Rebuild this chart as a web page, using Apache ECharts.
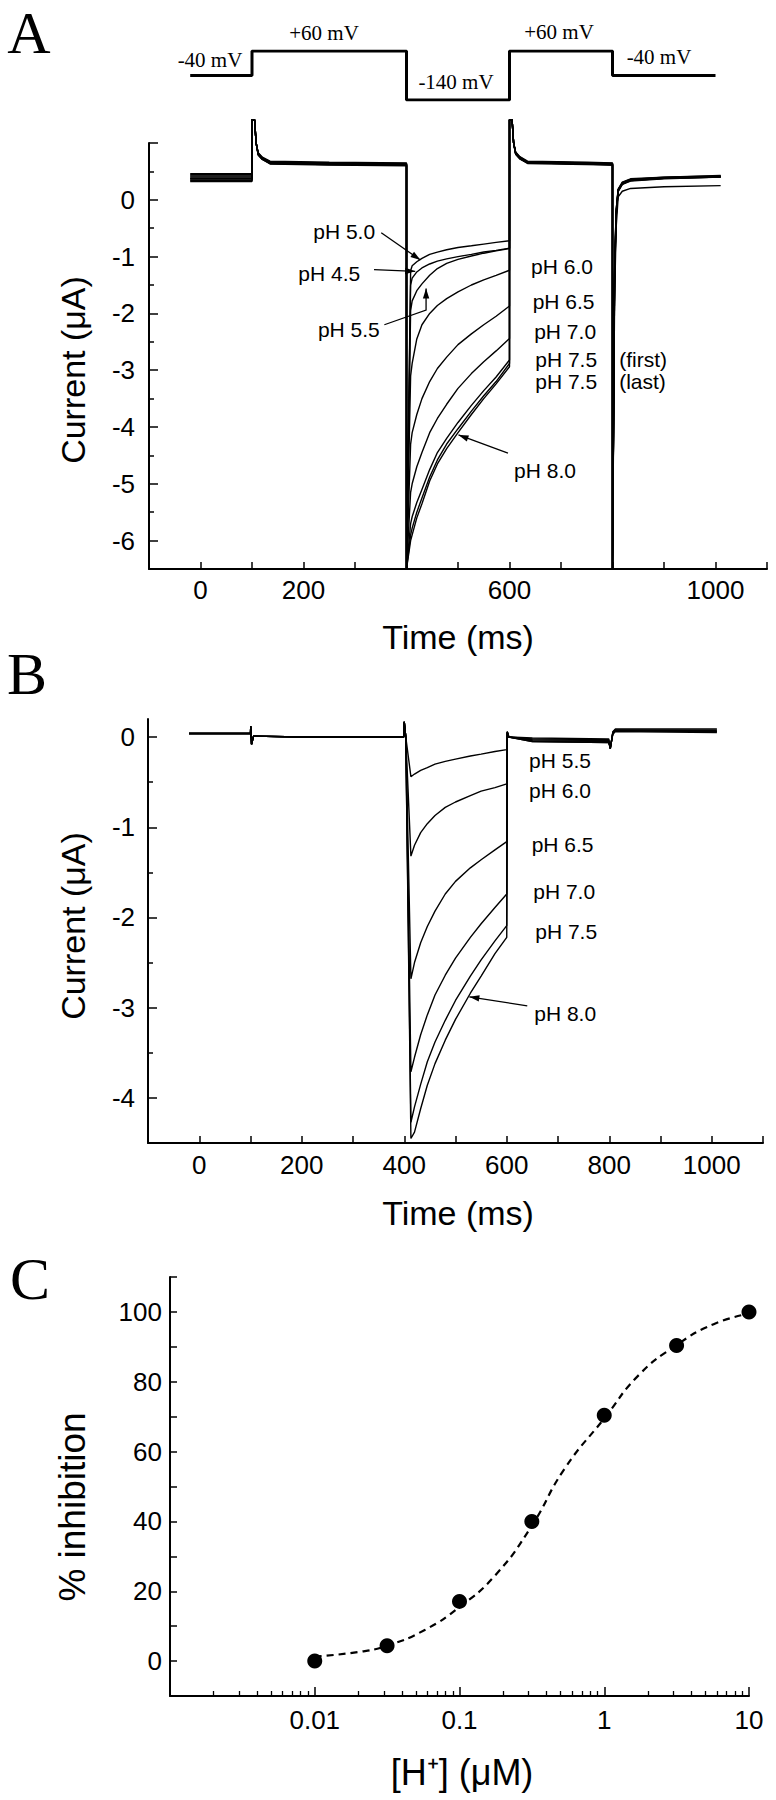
<!DOCTYPE html>
<html><head><meta charset="utf-8">
<script src="https://cdn.jsdelivr.net/npm/echarts@6.0.0/dist/echarts.min.js"></script>
<style>html,body{margin:0;padding:0;background:#fff}#c{width:776px;height:1800px}</style>
</head><body><div id="c"></div>
<script>
// ---------------- DATA ----------------
// Voltage protocol (top of panel A)
const protocolTime    = [-20, 100, 100, 400, 400, 600, 600, 800, 800, 1000];
const protocolVoltage = [-40, -40, 60, 60, -140, -140, 60, 60, -40, -40];

// Panel A: current traces (µA) sampled at timeA (ms)
const timeA = [-20,100,100,105,108,112,120,135,250,400,400,408,411,420,430,445,460,478,500,526,550,574,600,600,605,608,612,620,635,750,800,800,804,807,811,819,835,900,1010];
const aPH45  = [0.46,0.46,1.41,1.41,1.0,0.83,0.75,0.68,0.66,0.65,-6.5,-1.50,-1.38,-1.27,-1.20,-1.13,-1.08,-1.04,-1.00,-0.96,-0.92,-0.89,-0.85,1.41,1.41,1.0,0.84,0.76,0.68,0.66,0.65,-6.5,-1.8,-0.5,0.05,0.15,0.20,0.23,0.25];
const aPH50  = [0.44,0.44,1.41,1.41,1.0,0.82,0.74,0.67,0.65,0.64,-6.5,-1.25,-1.16,-1.09,-1.03,-0.96,-0.92,-0.88,-0.84,-0.81,-0.78,-0.75,-0.72,1.41,1.41,1.0,0.83,0.75,0.67,0.65,0.64,-6.5,-1.5,-0.3,0.15,0.27,0.34,0.38,0.41];
const aPH55  = [0.42,0.42,1.41,1.41,1.0,0.82,0.74,0.66,0.64,0.63,-6.5,-1.95,-1.78,-1.60,-1.48,-1.33,-1.21,-1.12,-1.05,-0.99,-0.94,-0.90,-0.86,1.41,1.41,1.0,0.83,0.75,0.67,0.65,0.64,-6.5,-1.5,-0.3,0.15,0.27,0.33,0.37,0.40];
const aPH60  = [0.40,0.40,1.41,1.41,1.0,0.81,0.73,0.66,0.64,0.63,-6.5,-3.10,-2.88,-2.45,-2.20,-2.00,-1.86,-1.74,-1.62,-1.50,-1.41,-1.33,-1.24,1.41,1.41,1.0,0.82,0.74,0.66,0.65,0.63,-6.5,-1.4,-0.3,0.16,0.28,0.34,0.38,0.40];
const aPH65  = [0.38,0.38,1.41,1.41,1.0,0.81,0.73,0.65,0.63,0.62,-6.5,-4.30,-4.10,-3.78,-3.50,-3.20,-2.97,-2.77,-2.55,-2.36,-2.20,-2.05,-1.87,1.41,1.41,1.0,0.82,0.74,0.66,0.64,0.63,-6.5,-1.4,-0.25,0.17,0.29,0.35,0.38,0.40];
const aPH70  = [0.37,0.37,1.41,1.41,1.0,0.80,0.72,0.65,0.63,0.62,-6.5,-5.15,-5.00,-4.70,-4.45,-4.10,-3.85,-3.60,-3.32,-3.06,-2.85,-2.66,-2.44,1.41,1.41,1.0,0.81,0.73,0.66,0.64,0.62,-6.5,-1.3,-0.25,0.17,0.29,0.35,0.39,0.41];
const aPH75f = [0.35,0.35,1.41,1.41,1.0,0.80,0.72,0.64,0.62,0.61,-6.5,-5.70,-5.58,-5.33,-5.10,-4.75,-4.45,-4.20,-3.92,-3.62,-3.36,-3.12,-2.82,1.41,1.41,1.0,0.81,0.73,0.65,0.63,0.62,-6.5,-1.3,-0.2,0.18,0.30,0.36,0.40,0.42];
const aPH75l = [0.34,0.34,1.41,1.41,1.0,0.79,0.71,0.64,0.62,0.61,-6.5,-5.90,-5.78,-5.50,-5.25,-4.88,-4.58,-4.30,-4.03,-3.72,-3.45,-3.20,-2.88,1.41,1.41,1.0,0.80,0.72,0.65,0.63,0.61,-6.5,-1.3,-0.2,0.18,0.30,0.36,0.39,0.41];
const aPH80  = [0.32,0.32,1.41,1.41,1.0,0.79,0.71,0.63,0.61,0.60,-6.5,-6.00,-5.90,-5.60,-5.35,-4.95,-4.65,-4.38,-4.10,-3.78,-3.50,-3.24,-2.94,1.41,1.41,1.0,0.80,0.72,0.64,0.62,0.61,-6.5,-1.2,-0.2,0.19,0.31,0.37,0.40,0.43];

// Panel B: current traces (µA) sampled at timeB (ms)
const timeB = [-20,100,100.5,102,106,200,399,400,403,413,420,432,445,460,480,500,529,550,577,600,601,604,650,799,802,807,812,1010];
const bPH55 = [0.04,0.04,0.12,-0.08,0.01,0.0,0.0,0.17,0.0,-0.44,-0.41,-0.37,-0.34,-0.30,-0.27,-0.245,-0.21,-0.19,-0.16,-0.14,0.05,0.0,-0.01,-0.02,-0.13,0.06,0.09,0.09];
const bPH60 = [0.04,0.04,0.12,-0.08,0.01,0.0,0.0,0.17,0.0,-1.32,-1.20,-1.06,-0.96,-0.87,-0.78,-0.72,-0.65,-0.60,-0.56,-0.52,0.05,0.0,-0.02,-0.03,-0.13,0.05,0.08,0.08];
const bPH65 = [0.04,0.04,0.12,-0.08,0.01,0.0,0.0,0.17,0.0,-2.68,-2.50,-2.28,-2.10,-1.93,-1.74,-1.60,-1.45,-1.36,-1.25,-1.16,0.05,0.0,-0.03,-0.04,-0.13,0.05,0.08,0.07];
const bPH70 = [0.04,0.04,0.12,-0.08,0.01,0.0,0.0,0.17,0.0,-3.71,-3.55,-3.30,-3.08,-2.86,-2.64,-2.45,-2.22,-2.07,-1.89,-1.74,0.06,0.0,-0.04,-0.05,-0.12,0.04,0.07,0.06];
const bPH75 = [0.04,0.04,0.12,-0.08,0.01,0.0,0.0,0.17,0.0,-4.27,-4.10,-3.85,-3.60,-3.38,-3.14,-2.92,-2.65,-2.47,-2.26,-2.09,0.06,0.0,-0.05,-0.06,-0.12,0.04,0.07,0.06];
const bPH80 = [0.04,0.04,0.12,-0.08,0.01,0.0,0.0,0.17,0.0,-4.45,-4.38,-4.12,-3.86,-3.62,-3.36,-3.13,-2.84,-2.65,-2.40,-2.22,0.06,0.0,-0.05,-0.06,-0.12,0.03,0.06,0.05];

// Panel C: % inhibition vs [H+]
const hConc      = [0.01, 0.0316, 0.1, 0.316, 1, 3.16, 10];
const inhibition = [0, 4.4, 17.1, 40.0, 70.4, 90.4, 100];
const fitConc    = [0.01, 0.02, 0.0316, 0.058, 0.1, 0.176, 0.313, 0.53, 1, 1.74, 3.16, 5.7, 10];
const fitInhib   = [1.3, 2.6, 4.4, 9.0, 15.5, 24.5, 38.5, 55.0, 69.5, 82.0, 90.5, 96.5, 99.5];

// Tick / label values
const tickTimes   = [0,100,200,300,400,500,600,700,800,900,1000,1100];
const labelTimesA = [0,200,600,1000];
const labelTimesB = [0,200,400,600,800,1000];
const yTicksA  = [1,0,-1,-2,-3,-4,-5,-6];
const yLabelsA = [0,-1,-2,-3,-4,-5,-6];
const yMinorA  = [0.5,-0.5,-1.5,-2.5,-3.5,-4.5,-5.5];
const yTicksB  = [0,-1,-2,-3,-4];
const yLabelsB = [0,-1,-2,-3,-4];
const yMinorB  = [-0.5,-1.5,-2.5,-3.5];
const concTicks = [0.01,0.1,1,10];
const concMinor = [0.002,0.003,0.004,0.005,0.006,0.007,0.008,0.009,
                   0.02,0.03,0.04,0.05,0.06,0.07,0.08,0.09,
                   0.2,0.3,0.4,0.5,0.6,0.7,0.8,0.9,
                   2,3,4,5,6,7,8,9];
const inhibLabels = [0,20,40,60,80,100];

// ---------------- CHART ----------------
const SANS = 'Liberation Sans, Arial, sans-serif';
const SERIF = 'Liberation Serif, Times New Roman, serif';
const K = '#000';
const chart = echarts.init(document.getElementById('c'), null, {renderer:'svg', width:776, height:1800});

const pair = (xs, ys) => xs.map((x, i) => [x, ys[i]]);
const lbl = (vals, margin) => ({customValues: vals, margin: margin, fontSize: 26, fontFamily: SANS, color: K, formatter: v => String(+(+v).toPrecision(6))});
const line = {show:true, onZero:false, lineStyle:{color:K, width:2}};
const hiddenLine = {show:false, onZero:false};
const noSplit = {show:false};

const aTraces = [aPH45, aPH50, aPH55, aPH60, aPH65, aPH70, aPH75f, aPH75l, aPH80];
const bTraces = [bPH55, bPH60, bPH65, bPH70, bPH75, bPH80];

const series = [];
series.push({type:'line', xAxisIndex:0, yAxisIndex:0, data: pair(protocolTime, protocolVoltage),
  symbol:'none', lineStyle:{color:K, width:3}, silent:true});
aTraces.forEach(tr => series.push({type:'line', xAxisIndex:1, yAxisIndex:1, data: pair(timeA, tr),
  symbol:'none', clip:false, lineStyle:{color:K, width:1.4}, silent:true}));
bTraces.forEach(tr => series.push({type:'line', xAxisIndex:2, yAxisIndex:3, data: pair(timeB, tr),
  symbol:'none', lineStyle:{color:K, width:1.4}, silent:true}));
series.push({type:'line', xAxisIndex:3, yAxisIndex:5, data: pair(fitConc, fitInhib), smooth:true,
  symbol:'none', lineStyle:{color:K, width:2.2, type:[7,5]}, silent:true});
series.push({type:'scatter', xAxisIndex:3, yAxisIndex:5, data: pair(hConc, inhibition),
  symbol:'circle', symbolSize:15, itemStyle:{color:K, opacity:1}, z:5, silent:true});

const option = {
  animation:false,
  backgroundColor:'#fff',
  grid:[
    {left:149, top:51, width:618, height:49},
    {left:149, top:143, width:618, height:426},
    {left:148, top:719, width:615, height:424},
    {left:170, top:1277, width:579, height:419}
  ],
  xAxis:[
    {gridIndex:0, type:'value', min:-100, max:1100, show:false},
    {gridIndex:1, type:'value', min:-100, max:1100, axisLine:line,
      axisTick:{inside:true, length:7, customValues:tickTimes, lineStyle:{color:K, width:1.5}},
      axisLabel:lbl(labelTimesA, 8), splitLine:noSplit},
    {gridIndex:2, type:'value', min:-100, max:1100, axisLine:line,
      axisTick:{inside:true, length:7, customValues:tickTimes, lineStyle:{color:K, width:1.5}},
      axisLabel:lbl(labelTimesB, 9), splitLine:noSplit},
    {gridIndex:3, type:'log', logBase:10, min:0.001, max:10, axisLine:line,
      axisTick:{inside:true, length:9, customValues:concTicks, lineStyle:{color:K, width:1.5}},
      axisLabel:lbl(concTicks, 11), splitLine:noSplit, minorSplitLine:noSplit},
    {gridIndex:3, type:'log', logBase:10, min:0.001, max:10, position:'bottom',
      axisLine:hiddenLine, axisTick:{inside:true, length:5, customValues:concMinor, lineStyle:{color:K, width:1.3}},
      axisLabel:{show:false}, splitLine:noSplit}
  ],
  yAxis:[
    {gridIndex:0, type:'value', min:-140, max:60, show:false},
    {gridIndex:1, type:'value', min:-6.5, max:1, position:'left', axisLine:line,
      axisTick:{inside:true, length:9, customValues:yTicksA, lineStyle:{color:K, width:1.5}},
      axisLabel:lbl(yLabelsA, 14), splitLine:noSplit},
    {gridIndex:1, type:'value', min:-6.5, max:1, position:'left', axisLine:hiddenLine,
      axisTick:{inside:true, length:5, customValues:yMinorA, lineStyle:{color:K, width:1.5}},
      axisLabel:{show:false}, splitLine:noSplit},
    {gridIndex:2, type:'value', min:-4.5, max:0.2, position:'left', axisLine:line,
      axisTick:{inside:true, length:9, customValues:yTicksB, lineStyle:{color:K, width:1.5}},
      axisLabel:lbl(yLabelsB, 13), splitLine:noSplit},
    {gridIndex:2, type:'value', min:-4.5, max:0.2, position:'left', axisLine:hiddenLine,
      axisTick:{inside:true, length:5, customValues:yMinorB, lineStyle:{color:K, width:1.5}},
      axisLabel:{show:false}, splitLine:noSplit},
    {gridIndex:3, type:'value', min:-10, max:110, interval:10, axisLine:line,
      axisTick:{inside:true, length:7, lineStyle:{color:K, width:1.5}},
      axisLabel:lbl(inhibLabels, 8), splitLine:noSplit}
  ],
  series: series
};
chart.setOption(option);

// ---------------- ANNOTATIONS ----------------
const labelsA = [
  ['pH 5.0', 279, -0.56], ['pH 4.5', 250, -1.30], ['pH 5.5', 288, -2.29],
  ['pH 6.0', 702, -1.18], ['pH 6.5', 705, -1.79], ['pH 7.0', 708, -2.32],
  ['pH 7.5', 710, -2.81], ['pH 7.5', 710, -3.20], ['pH 8.0', 669, -4.76]
];
const notesA = [['(first)', 813, -2.81], ['(last)', 813, -3.20]];
const arrowsA = [
  [[351,-0.58],[427,-1.06]],
  [[337,-1.23],[417,-1.26]],
  [[357,-2.20],[438,-1.94],[438,-1.56]],
  [[597,-4.46],[501,-4.14]]
];
const labelsB = [
  ['pH 5.5', 704, -0.26], ['pH 6.0', 704, -0.59], ['pH 6.5', 709, -1.19],
  ['pH 7.0', 712, -1.71], ['pH 7.5', 716, -2.16], ['pH 8.0', 714, -3.07]
];
const arrowsB = [ [[640,-2.98],[527,-2.88]] ];

const toPx = (xi, yi, p) => chart.convertToPixel({xAxisIndex:xi, yAxisIndex:yi}, p);
const g = [];
function txt(text, x, y, size, family, align, rot) {
  g.push({type:'text', x:x, y:y, rotation:rot || 0, silent:true,
    style:{text:text, fill:K, font: size + 'px ' + family, fontSize:size, fontFamily:family,
      textAlign: align || 'center', textVerticalAlign:'middle'}});
}
function arrow(pts) {
  g.push({type:'polyline', silent:true, shape:{points:pts}, style:{stroke:K, lineWidth:1.3, fill:null}});
  const p1 = pts[pts.length-1], p0 = pts[pts.length-2];
  const a = Math.atan2(p1[1]-p0[1], p1[0]-p0[0]);
  const L = 10, W = 3.2;
  const bx = p1[0] - L*Math.cos(a), by = p1[1] - L*Math.sin(a);
  g.push({type:'polygon', silent:true, shape:{points:[p1,
    [bx + W*Math.sin(a), by - W*Math.cos(a)], [bx - W*Math.sin(a), by + W*Math.cos(a)]]}, style:{fill:K}});
}
labelsA.forEach(l => { const p = toPx(1,1,[l[1],l[2]]); txt(l[0], p[0], p[1], 21, SANS); });
notesA.forEach(l => { const p = toPx(1,1,[l[1],l[2]]); txt(l[0], p[0], p[1], 21, SANS, 'left'); });
arrowsA.forEach(a => arrow(a.map(q => toPx(1,1,q))));
labelsB.forEach(l => { const p = toPx(2,3,[l[1],l[2]]); txt(l[0], p[0], p[1], 21, SANS); });
arrowsB.forEach(a => arrow(a.map(q => toPx(2,3,q))));

// protocol voltage labels
txt('-40 mV', 210, 60, 21, SERIF);
txt('+60 mV', 324, 33, 21, SERIF);
txt('-140 mV', 456, 82, 21, SERIF);
txt('+60 mV', 559, 32, 21, SERIF);
txt('-40 mV', 659, 57, 21, SERIF);

// panel letters
txt('A', 29, 33, 60, SERIF);
txt('B', 27, 674, 60, SERIF);
txt('C', 30, 1279, 60, SERIF);

// axis titles
txt('Current (μA)', 73, 370, 34, SANS, 'center', Math.PI/2);
txt('Time (ms)', 458, 637, 34, SANS);
txt('Current (μA)', 73, 926, 34, SANS, 'center', Math.PI/2);
txt('Time (ms)', 458, 1213, 34, SANS);
txt('% inhibition', 72, 1507, 37, SANS, 'center', Math.PI/2);
txt('[H⁺] (μM)', 462, 1772, 36, SANS);

chart.setOption({graphic: g});
</script></body></html>
